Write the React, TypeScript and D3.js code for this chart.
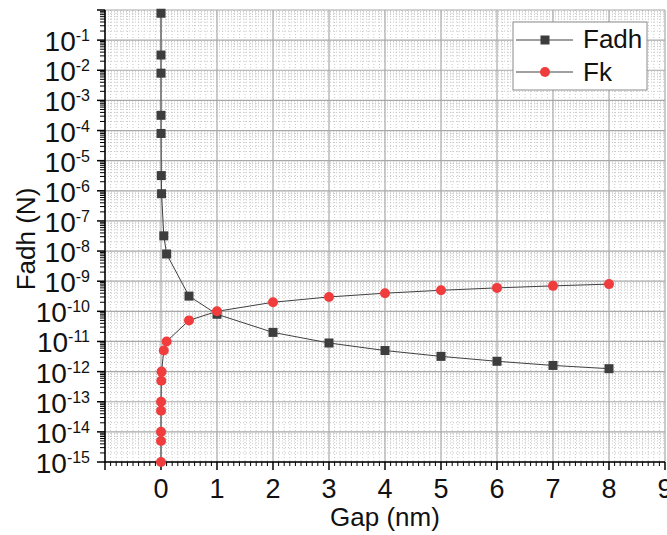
import React from "react";
import * as d3 from "d3";

const gap = [0.00001, 0.00005, 0.0001, 0.0005, 0.001, 0.005, 0.01, 0.05, 0.1, 0.5, 1, 2, 3, 4, 5, 6, 7, 8];
const fadh = [0.78, 0.032, 0.008, 3.2e-4, 8e-5, 3.2e-6, 8e-7, 3.2e-8, 8e-9, 3.2e-10, 8e-11, 2e-11, 8.9e-12, 5e-12, 3.2e-12, 2.2e-12, 1.6e-12, 1.25e-12];
const fk = [1e-15, 5e-15, 1e-14, 5e-14, 1e-13, 5e-13, 1e-12, 5e-12, 1e-11, 5e-11, 1e-10, 2e-10, 3e-10, 4e-10, 5e-10, 6e-10, 7e-10, 8e-10];
const xTickLabels = ["0", "1", "2", "3", "4", "5", "6", "7", "8", "9"];
const yTickExponents = [-15, -14, -13, -12, -11, -10, -9, -8, -7, -6, -5, -4, -3, -2, -1];
const seriesNames = ["Fadh", "Fk"];

const W = 667;
const H = 535;
const FONT = "'Liberation Sans', Arial, sans-serif";

export default function App() {
  const left = 105, right = 665, top = 10, bottom = 462;
  const x = d3.scaleLinear().domain([-1, 9]).range([left, right]);
  const y = d3.scaleLog().domain([1e-15, 1]).range([bottom, top]);

  const xMajor = d3.range(-1, 10);
  const xMinor = d3.range(-10, 91).map((i) => i / 10).filter((v) => Math.abs(v - Math.round(v)) > 1e-9);
  const yMajor = d3.range(-15, 1).map((e) => Math.pow(10, e));
  const yMinor: number[] = [];
  for (let e = -15; e < 0; e++) for (let k = 2; k <= 9; k++) yMinor.push(k * Math.pow(10, e));

  const line = d3
    .line<[number, number]>()
    .x((d) => x(d[0]))
    .y((d) => y(d[1]));
  const fadhPts: [number, number][] = gap.map((g, i) => [g, fadh[i]]);
  const fkPts: [number, number][] = gap.map((g, i) => [g, fk[i]]);

  const sq = 9;
  const r = 5;
  const black = "#3d3d3d";
  const red = "#f03c3c";
  const lineColor = "#404040";

  return (
    <svg width={W} height={H} style={{ position: "absolute", left: 0, top: 0, background: "#fff" }} fontFamily={FONT}>
      <rect x={0} y={0} width={W} height={H} fill="#fff" />
      {/* minor grid */}
      <g stroke="#c8c8c8" strokeWidth={1} strokeDasharray="1 2">
        {xMinor.map((v, i) => (
          <line key={"xm" + i} x1={x(v)} x2={x(v)} y1={top} y2={bottom} />
        ))}
        {yMinor.map((v, i) => (
          <line key={"ym" + i} x1={left} x2={right} y1={y(v)} y2={y(v)} />
        ))}
      </g>
      {/* major grid */}
      <g stroke="#a8a8a8" strokeWidth={1.2}>
        {xMajor.map((v) => (
          <line key={"xg" + v} x1={x(v)} x2={x(v)} y1={top} y2={bottom} />
        ))}
        {yMajor.map((v, i) => (
          <line key={"yg" + i} x1={left} x2={right} y1={y(v)} y2={y(v)} />
        ))}
      </g>

      {/* axes */}
      <g stroke="#000" strokeWidth={1.5}>
        <line x1={left} x2={left} y1={top} y2={bottom} />
        <line x1={left} x2={right} y1={bottom} y2={bottom} />
        {xMajor.map((v) => (
          <line key={"xt" + v} x1={x(v)} x2={x(v)} y1={bottom} y2={bottom + 8} />
        ))}
        {yMajor.map((v, i) => (
          <line key={"yt" + i} x1={left - 8} x2={left} y1={y(v)} y2={y(v)} />
        ))}
      </g>
      <g stroke="#000" strokeWidth={1}>
        {xMinor.map((v, i) => (
          <line key={"xmt" + i} x1={x(v)} x2={x(v)} y1={bottom} y2={bottom + 4} />
        ))}
        {yMinor.map((v, i) => (
          <line key={"ymt" + i} x1={left - 5} x2={left} y1={y(v)} y2={y(v)} />
        ))}
      </g>

      {/* x tick labels */}
      {xTickLabels.map((t) => (
        <text key={"xl" + t} x={x(+t)} y={498} fontSize={27} textAnchor="middle" fill="#111">
          {t}
        </text>
      ))}
      {/* y tick labels */}
      {yTickExponents.map((e) => (
        <text key={"yl" + e} x={90} y={y(Math.pow(10, e)) + 11} fontSize={28} textAnchor="end" fill="#111">
          <tspan>10</tspan>
          <tspan dy={-10} fontSize={16}>{"-" + Math.abs(e)}</tspan>
        </text>
      ))}

      {/* axis titles */}
      <text x={385} y={526} fontSize={26} textAnchor="middle" fill="#111">
        Gap (nm)
      </text>
      <text transform={`translate(35,239) rotate(-90)`} fontSize={26} textAnchor="middle" fill="#111">
        Fadh (N)
      </text>

      {/* series */}
      <path d={line(fadhPts) || ""} fill="none" stroke={lineColor} strokeWidth={1} />
      {fadhPts.map((p, i) => (
        <rect key={"s" + i} x={x(p[0]) - sq / 2} y={y(p[1]) - sq / 2} width={sq} height={sq} fill={black} />
      ))}
      <path d={line(fkPts) || ""} fill="none" stroke={lineColor} strokeWidth={1} />
      {fkPts.map((p, i) => (
        <circle key={"c" + i} cx={x(p[0])} cy={y(p[1])} r={r} fill={red} />
      ))}

      {/* legend */}
      <g>
        <rect x={513} y={22} width={134} height={68} fill="#fff" stroke="#8a8a8a" strokeWidth={1} />
        <line x1={516} x2={573} y1={40} y2={40} stroke={lineColor} strokeWidth={1} />
        <rect x={545 - sq / 2} y={40 - sq / 2} width={sq} height={sq} fill={black} />
        <text x={583} y={48} fontSize={26} fill="#111">
          {seriesNames[0]}
        </text>
        <line x1={516} x2={573} y1={72} y2={72} stroke={lineColor} strokeWidth={1} />
        <circle cx={545} cy={72} r={r} fill={red} />
        <text x={583} y={81} fontSize={26} fill="#111">
          {seriesNames[1]}
        </text>
      </g>
    </svg>
  );
}
